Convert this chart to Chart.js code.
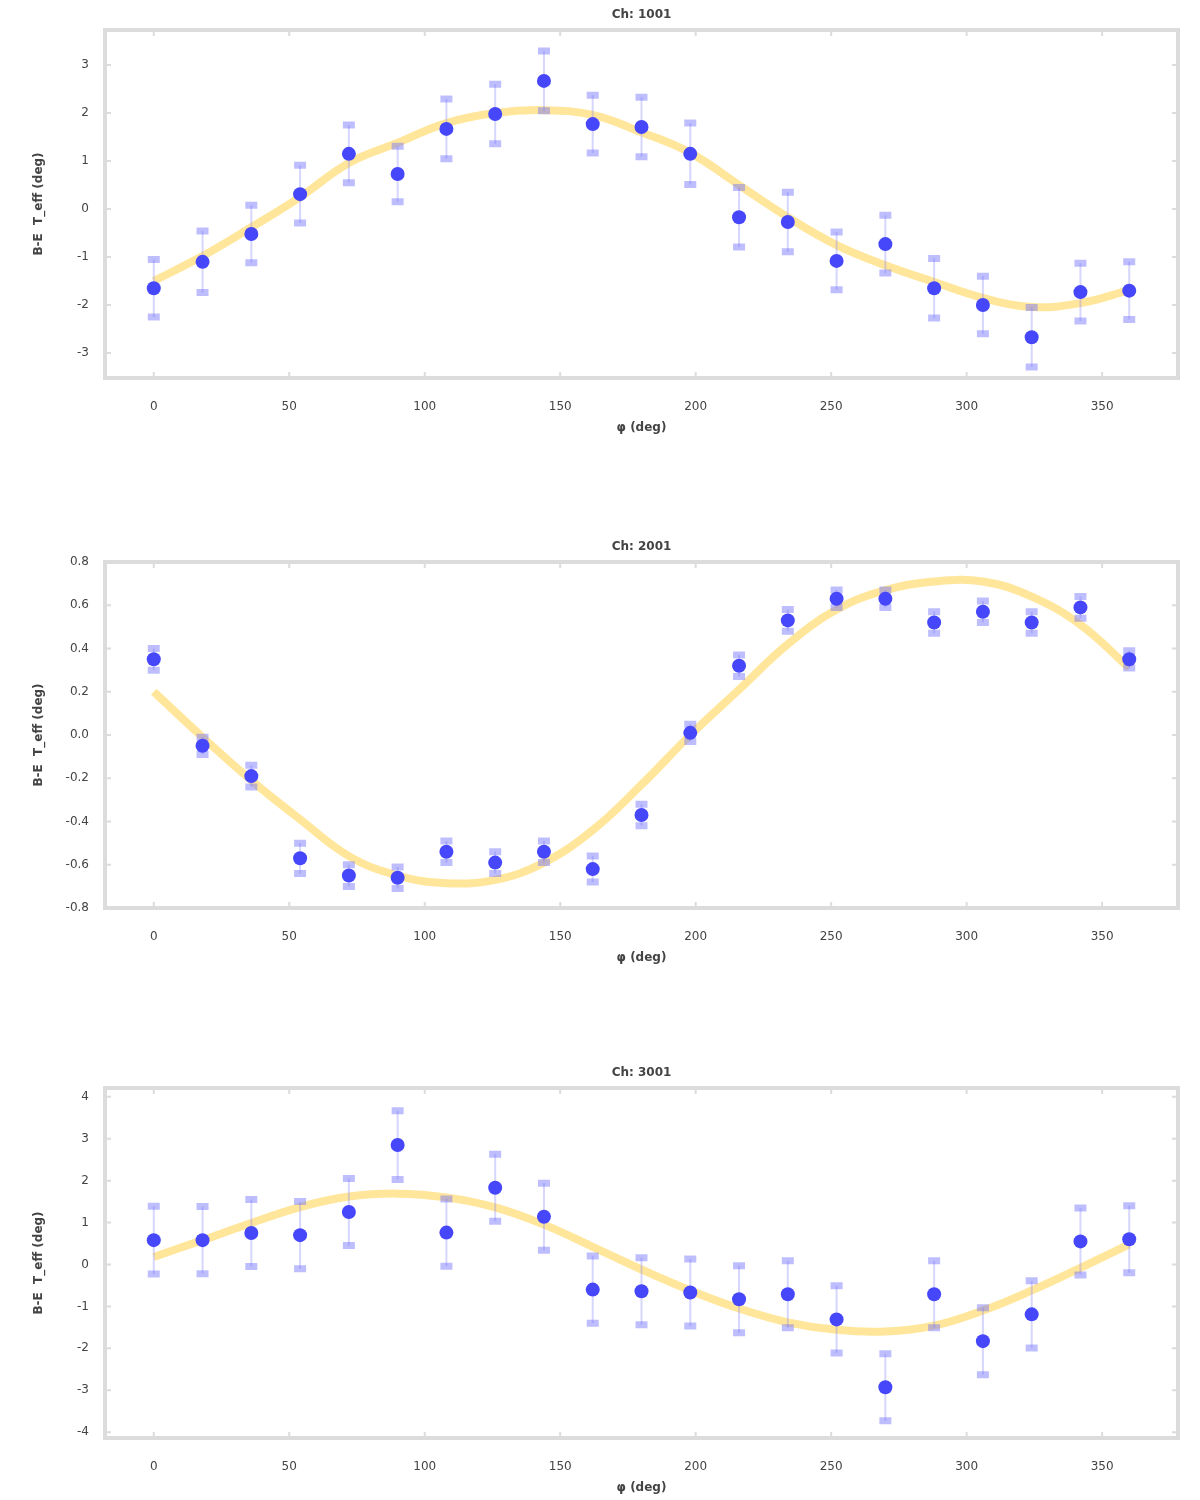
<!DOCTYPE html>
<html>
<head>
<meta charset="utf-8">
<script src="https://cdn.jsdelivr.net/npm/chart.js@4.4.0/dist/chart.umd.min.js"></script>
<style>
  body { margin: 0; background: #fff; width: 1200px; height: 1500px; position: relative; overflow: hidden; }
  .pannello { position: absolute; left: 0; width: 1200px; }
</style>
</head>
<body>
<div class="pannello" style="top:0px;height:440px"><canvas id="c1" width="1200" height="440"></canvas></div>
<div class="pannello" style="top:530px;height:440px"><canvas id="c2" width="1200" height="440"></canvas></div>
<div class="pannello" style="top:1058px;height:442px"><canvas id="c3" width="1200" height="442"></canvas></div>
<script>
// dati
const fase = [0, 18, 36, 54, 72, 90, 108, 126, 144, 162, 180, 198, 216, 234, 252, 270, 288, 306, 324, 342, 360];
const titoli = ["Ch: 1001", "Ch: 2001", "Ch: 3001"];
const etichettaX = "φ (deg)";
const etichettaY = "B-E  T_eff (deg)";
const tickX = [0, 50, 100, 150, 200, 250, 300, 350];

const valori1 = [-1.65, -1.1, -0.52, 0.31, 1.15, 0.73, 1.67, 1.98, 2.67, 1.77, 1.71, 1.15, -0.17, -0.27, -1.08, -0.73, -1.65, -2.0, -2.67, -1.73, -1.7];
const errori1 = [0.6, 0.64, 0.6, 0.6, 0.6, 0.58, 0.62, 0.62, 0.62, 0.6, 0.62, 0.64, 0.62, 0.62, 0.6, 0.6, 0.62, 0.6, 0.62, 0.6, 0.6];
const fit1 = [-1.5, -0.98, -0.38, 0.25, 0.96, 1.38, 1.79, 2.0, 2.06, 1.96, 1.6, 1.17, 0.5, -0.17, -0.75, -1.17, -1.52, -1.85, -2.04, -1.96, -1.69];
const tick1 = [3, 2, 1, 0, -1, -2, -3];

const valori2 = [0.35, -0.05, -0.19, -0.57, -0.65, -0.66, -0.54, -0.59, -0.54, -0.62, -0.37, 0.01, 0.32, 0.53, 0.63, 0.63, 0.52, 0.57, 0.52, 0.59, 0.35];
const errori2 = [0.05, 0.04, 0.05, 0.07, 0.05, 0.05, 0.05, 0.05, 0.05, 0.06, 0.05, 0.04, 0.05, 0.05, 0.04, 0.04, 0.05, 0.05, 0.05, 0.05, 0.04];
const fit2 = [0.2, -0.01, -0.21, -0.39, -0.56, -0.65, -0.685, -0.67, -0.59, -0.44, -0.23, 0.0, 0.21, 0.42, 0.58, 0.67, 0.71, 0.71, 0.64, 0.51, 0.31];
const tick2 = [0.8, 0.6, 0.4, 0.2, 0.0, -0.2, -0.4, -0.6, -0.8];

const valori3 = [0.58, 0.58, 0.75, 0.7, 1.25, 2.85, 0.76, 1.83, 1.14, -0.6, -0.64, -0.67, -0.83, -0.71, -1.31, -2.93, -0.71, -1.83, -1.19, 0.55, 0.6];
const errori3 = [0.81, 0.8, 0.8, 0.8, 0.8, 0.82, 0.8, 0.8, 0.8, 0.8, 0.8, 0.8, 0.8, 0.8, 0.8, 0.8, 0.8, 0.8, 0.8, 0.8, 0.8];
const fit3 = [0.18, 0.58, 0.99, 1.37, 1.62, 1.69, 1.6, 1.36, 0.95, 0.42, -0.12, -0.62, -1.05, -1.38, -1.56, -1.6, -1.46, -1.1, -0.62, -0.08, 0.48];
const tick3 = [4, 3, 2, 1, 0, -1, -2, -3, -4];

const fontBase = "DejaVu Sans";

// barre d'errore, cornice, titolo
const pluginPannello = {
  id: 'pannello',
  beforeDatasetDraw(chart, args, opts) {
    if (args.index !== 0) return;
    const ctx = chart.ctx;
    const xs = chart.scales.x, ys = chart.scales.y;
    ctx.save();
    chart.data.datasets[0].data.forEach((p, i) => {
      const x = xs.getPixelForValue(p.x);
      const y1 = ys.getPixelForValue(p.y + opts.errori[i]);
      const y2 = ys.getPixelForValue(p.y - opts.errori[i]);
      ctx.strokeStyle = 'rgba(120,120,255,0.3)';
      ctx.lineWidth = 2;
      ctx.beginPath(); ctx.moveTo(x, y1); ctx.lineTo(x, y2); ctx.stroke();
      ctx.strokeStyle = 'rgba(110,110,255,0.45)';
      ctx.lineWidth = 7;
      ctx.beginPath();
      ctx.moveTo(x - 6, y1); ctx.lineTo(x + 6, y1);
      ctx.moveTo(x - 6, y2); ctx.lineTo(x + 6, y2);
      ctx.stroke();
    });
    ctx.restore();
  },
  afterDraw(chart, args, opts) {
    const ctx = chart.ctx;
    const a = chart.chartArea;
    ctx.save();
    ctx.strokeStyle = '#dcdcdc';
    ctx.lineWidth = 2;
    chart.scales.y.ticks.forEach(t => {
      const y = chart.scales.y.getPixelForValue(t.value);
      ctx.beginPath();
      ctx.moveTo(a.left, y); ctx.lineTo(a.left + 6, y);
      ctx.moveTo(a.right, y); ctx.lineTo(a.right - 6, y);
      ctx.stroke();
    });
    chart.scales.x.ticks.forEach(t => {
      const x = chart.scales.x.getPixelForValue(t.value);
      ctx.beginPath();
      ctx.moveTo(x, a.bottom); ctx.lineTo(x, a.bottom - 6);
      ctx.moveTo(x, a.top); ctx.lineTo(x, a.top + 6);
      ctx.stroke();
    });
    ctx.lineWidth = 4;
    ctx.strokeRect(a.left, a.top, a.right - a.left, a.bottom - a.top);
    ctx.fillStyle = '#444';
    ctx.font = 'bold 12px "' + fontBase + '"';
    ctx.textAlign = 'center';
    ctx.textBaseline = 'middle';
    ctx.fillText(opts.titolo, (a.left + a.right) / 2, a.top - 15);
    ctx.restore();
  }
};

function creaGrafico(id, titolo, valori, errori, fit, tickY, minY, maxY, altoPad, decimali) {
  const punti = fase.map((f, i) => ({ x: f, y: valori[i] }));
  const curva = fase.map((f, i) => ({ x: f, y: fit[i] }));
  new Chart(document.getElementById(id), {
    type: 'scatter',
    data: {
      datasets: [{
        data: punti,
        backgroundColor: 'rgb(70,70,250)',
        borderWidth: 0,
        pointRadius: 7
      }, {
        type: 'line',
        data: curva,
        borderColor: 'rgba(255,222,120,0.75)',
        borderWidth: 8,
        pointRadius: 0,
        tension: 0.4,
        fill: false
      }]
    },
    options: {
      responsive: false,
      animation: false,
      layout: { padding: { top: altoPad, right: 22, left: 0, bottom: 0 } },
      plugins: {
        legend: { display: false },
        tooltip: { enabled: false },
        pannello: { errori: errori, titolo: titolo }
      },
      scales: {
        x: {
          type: 'linear', min: -18, max: 378,
          grid: { display: false }, border: { display: false },
          afterBuildTicks: s => { s.ticks = tickX.map(v => ({ value: v })); },
          afterFit: s => { s.height = 62; },
          ticks: { padding: 14, color: '#444', font: { family: fontBase, size: 12 } },
          title: { display: true, text: etichettaX, color: '#444', padding: { top: 0, bottom: 5 }, font: { family: fontBase, size: 12, weight: 'bold' } }
        },
        y: {
          min: minY, max: maxY,
          grid: { display: false }, border: { display: false },
          afterBuildTicks: s => { s.ticks = tickY.map(v => ({ value: v })); },
          afterFit: s => { s.width = 105; },
          ticks: {
            padding: 8, color: '#444', font: { family: fontBase, size: 12 },
            callback: v => v.toFixed(decimali)
          },
          title: { display: true, text: etichettaY, color: '#444', padding: { top: 32, bottom: 0 }, font: { family: fontBase, size: 12, weight: 'bold' } }
        }
      }
    },
    plugins: [pluginPannello]
  });
}

creaGrafico('c1', titoli[0], valori1, errori1, fit1, tick1, -3.52, 3.73, 30, 0);
creaGrafico('c2', titoli[1], valori2, errori2, fit2, tick2, -0.8, 0.8, 32, 1);
creaGrafico('c3', titoli[2], valori3, errori3, fit3, tick3, -4.14, 4.21, 30, 0);
</script>
</body>
</html>
